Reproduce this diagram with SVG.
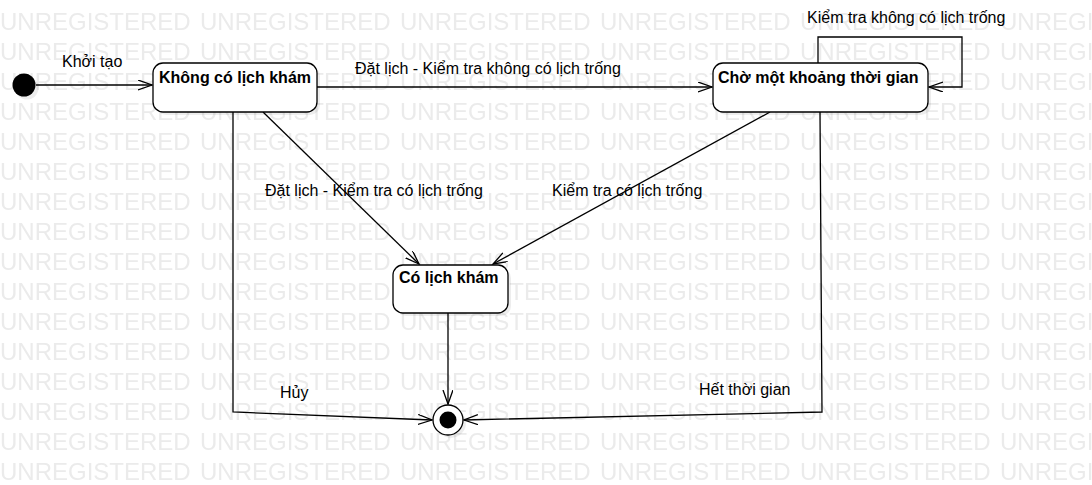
<svg xmlns="http://www.w3.org/2000/svg" width="1092" height="485" viewBox="0 0 1092 485">
<style>
.state{fill:#fff;stroke:#000;stroke-width:1.3}
.shadow{fill:#000;fill-opacity:0.07;stroke:none}
.name{font-family:"Liberation Sans",Arial,sans-serif;font-size:16px;font-weight:bold;fill:#000}
.lbl{font-family:"Liberation Sans",Arial,sans-serif;font-size:16px;fill:#000}
.wm{font-family:"Liberation Sans",Arial,sans-serif;font-size:24px;fill:#ebebeb}
.edge{fill:none;stroke:#000;stroke-width:1.3;marker-end:url(#arr)}
</style>
<defs>
<marker id="arr" markerUnits="userSpaceOnUse" markerWidth="16" markerHeight="12" refX="14" refY="5" orient="auto">
<path d="M0,0 L14,5 L0,10" fill="none" stroke="#000" stroke-width="1.3"/>
</marker>
<pattern id="wmp" patternUnits="userSpaceOnUse" x="0" y="5" width="200" height="30">
<text class="wm" x="0" y="25">UNREGISTERED</text>
</pattern>
</defs>
<rect width="1092" height="485" fill="#fff"/>
<rect width="1092" height="485" fill="url(#wmp)"/>

<g id="connectors">
<path class="edge" d="M36,85 L152,85"/>
<path class="edge" d="M317,87 L712,87"/>
<path class="edge" d="M818,63 L818,37 L962,37 L962,87 L929,87"/>
<path class="edge" d="M263,112 L419,264"/>
<path class="edge" d="M770,112 L493,264"/>
<path class="edge" d="M448,313 L448,404"/>
<path class="edge" d="M233,112 L233,412 L432,420"/>
<path class="edge" d="M820,112 L822,412 L464,420"/>
</g>

<g id="labels">
<text class="lbl" x="62" y="67">Khởi tạo</text>
<text class="lbl" x="355" y="74">Đặt lịch - Kiểm tra không có lịch trống</text>
<text class="lbl" x="807" y="23">Kiểm tra không có lịch trống</text>
<text class="lbl" x="265" y="196">Đặt lịch - Kiểm tra có lịch trống</text>
<text class="lbl" x="552" y="196">Kiểm tra có lịch trống</text>
<text class="lbl" x="280" y="398">Hủy</text>
<text class="lbl" x="699" y="395">Hết thời gian</text>
</g>

<g id="initial">
<circle class="shadow" cx="27" cy="88" r="11.5"/>
<circle cx="24" cy="85" r="11.5" fill="#000"/>
</g>

<g id="khong-co-lich-kham">
<rect class="shadow" x="156" y="66" width="164" height="49" rx="10"/>
<rect class="state" x="153" y="63" width="164" height="49" rx="10"/>
<text class="name" x="159" y="83">Không có lịch khám</text>
</g>

<g id="cho-mot-khoang-thoi-gian">
<rect class="shadow" x="716" y="66" width="215" height="49" rx="10"/>
<rect class="state" x="713" y="63" width="215" height="49" rx="10"/>
<text class="name" x="718" y="83">Chờ một khoảng thời gian</text>
</g>

<g id="co-lich-kham">
<rect class="shadow" x="396" y="268" width="115" height="48" rx="10"/>
<rect class="state" x="393" y="265" width="115" height="48" rx="10"/>
<text class="name" x="399" y="283">Có lịch khám</text>
</g>

<g id="final">
<circle class="shadow" cx="451" cy="423" r="15"/>
<circle cx="448" cy="420" r="15" fill="#fff" stroke="#000" stroke-width="1.3"/>
<circle cx="448" cy="420" r="8.5" fill="#000"/>
</g>
</svg>
